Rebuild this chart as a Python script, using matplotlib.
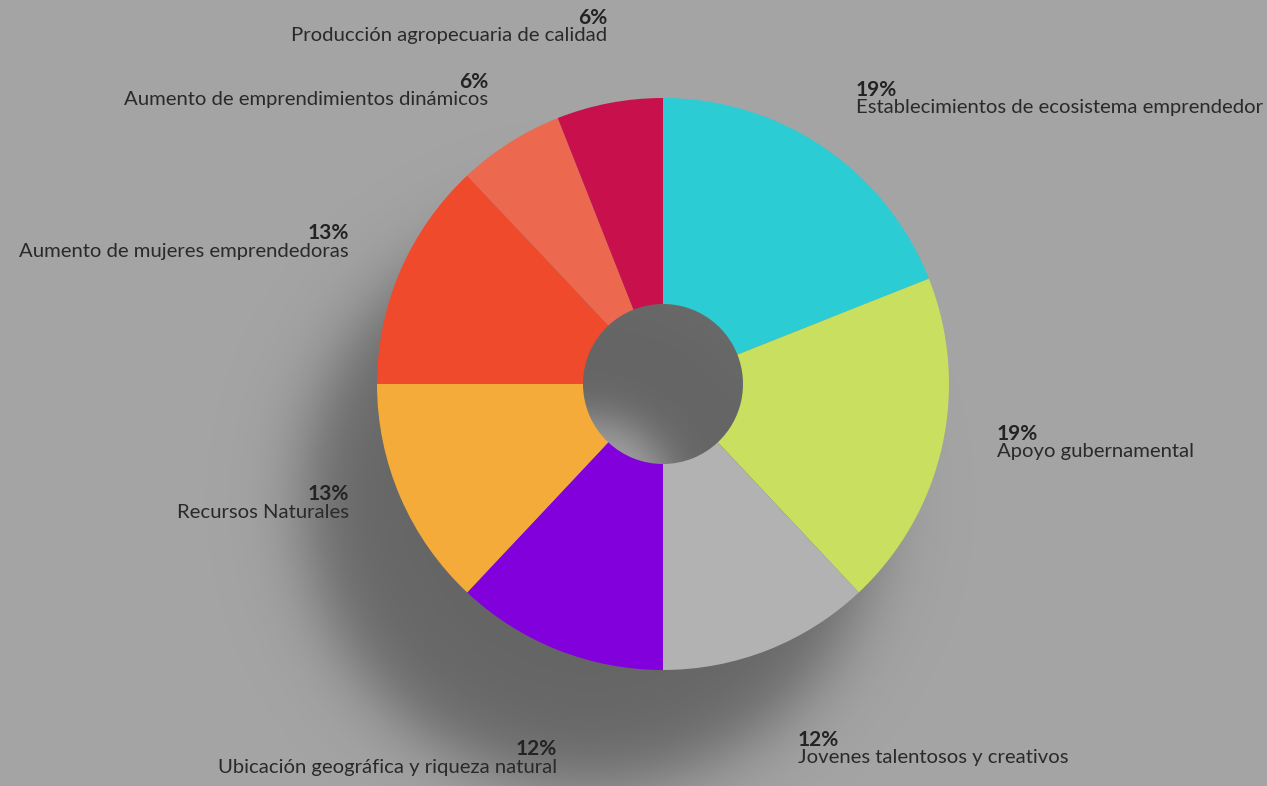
import numpy as np
import matplotlib
matplotlib.use("Agg")
import matplotlib.pyplot as plt

# datos del gráfico (sentido horario desde arriba)
categorias = [
    "Establecimientos de ecosistema emprendedor",
    "Apoyo gubernamental",
    "Jovenes talentosos y creativos",
    "Ubicación geográfica y riqueza natural",
    "Recursos Naturales",
    "Aumento de mujeres emprendedoras",
    "Aumento de emprendimientos dinámicos",
    "Producción agropecuaria de calidad",
]
porcentajes = [19, 19, 12, 12, 13, 13, 6, 6]
colores = ["#2BCCD4", "#C8DF5F", "#B2B2B2", "#8200DC",
           "#F4AB3A", "#F04A2C", "#EC6950", "#C8104C"]

# posición de las etiquetas en píxeles (x, y de la línea del %) y alineación
pos_etiquetas = [(856, 90, "left"), (997, 434, "left"), (798, 740, "left"),
                 (557, 749, "right"), (349, 494, "right"), (349, 233, "right"),
                 (488, 82, "right"), (607, 18, "right")]

W, H = 1267, 786
FONDO = "#A4A4A4"
cx, cy = 663, 384          # centro del anillo (px)
R_ext, R_int = 286, 80
sx, sy = cx - 73, cy + 116  # centro de la sombra (px)

fig = plt.figure(figsize=(W / 100, H / 100), dpi=100, facecolor=FONDO)
ax = fig.add_axes([0, 0, 1, 1])
ax.set_facecolor(FONDO)

# sombra difusa del anillo
yy, xx = np.mgrid[0:H, 0:W]
d = np.hypot(xx - sx, yy - sy)
sig = lambda t: 1 / (1 + np.exp(-t))
alpha = sig((R_ext - d) / 20.0) * sig((d - R_int) / 14.0)
alpha = alpha * (0.64 - 0.10 * np.clip(d / R_ext, 0, 1))
img = np.zeros((H, W, 4))
img[..., :3] = 0.22
img[..., 3] = alpha
ax.imshow(img, extent=(0, W, 0, H), origin="upper", zorder=1, interpolation="bilinear")

# anillo
wedges, _ = ax.pie(porcentajes, colors=colores, startangle=90, counterclock=False,
                   radius=R_ext, center=(cx, H - cy),
                   wedgeprops=dict(width=R_ext - R_int, linewidth=0))
for w in wedges:
    w.set_zorder(3)

# etiquetas
fuente = ["Lato", "DejaVu Sans"]
for nombre, pct, (x, y, ha) in zip(categorias, porcentajes, pos_etiquetas):
    ax.text(x, H - y, f"{pct}%", ha=ha, va="center", fontsize=15, fontweight="bold",
            color="#232323", family=fuente, zorder=5)
    ax.text(x, H - y - 18, nombre, ha=ha, va="center", fontsize=14.6,
            color="#2A2A2A", family=fuente, zorder=5)

ax.set_xlim(0, W)
ax.set_ylim(0, H)
ax.set_aspect("equal")
ax.axis("off")

fig.savefig("out.png", dpi=100, facecolor=FONDO)
